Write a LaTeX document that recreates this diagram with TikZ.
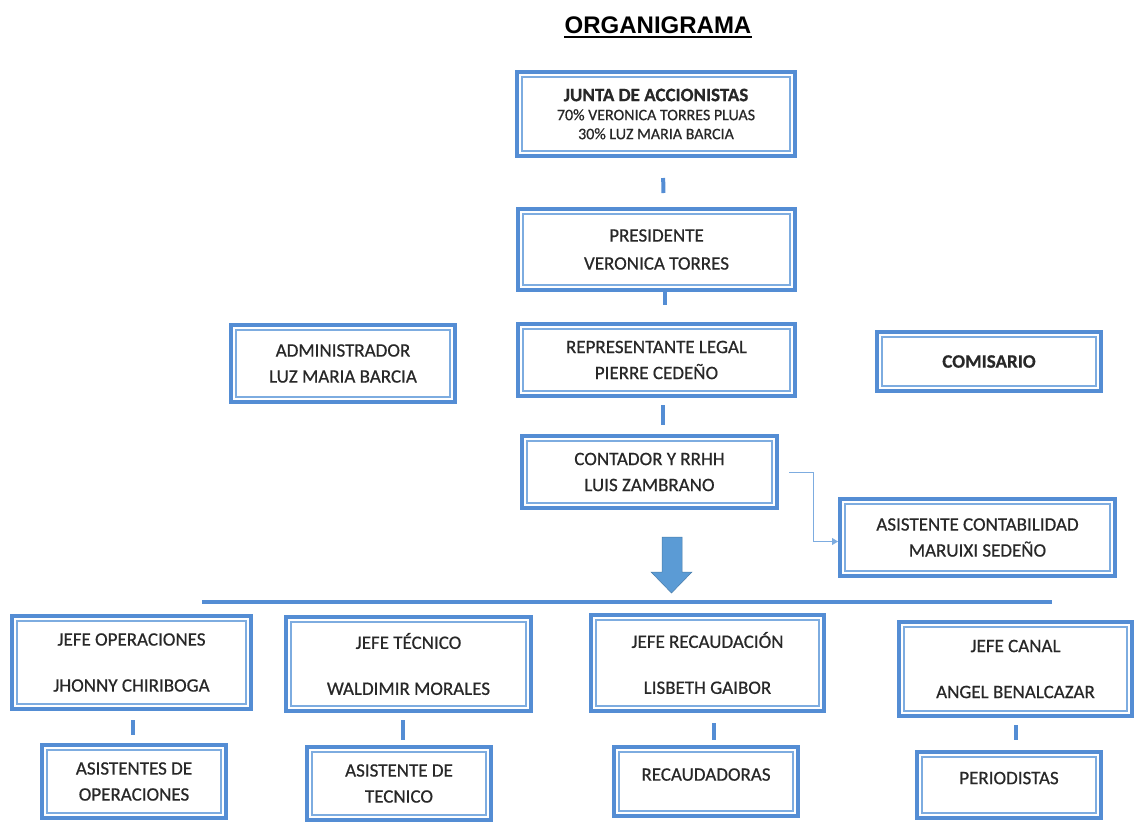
\documentclass[tikz,border=0pt]{standalone}
\usepackage{fontspec}
\setmainfont{Carlito}[RawFeature={embolden=0.6}]
\newfontfamily\titlefont{Liberation Sans}
\usetikzlibrary{arrows.meta}
\definecolor{boxblue}{RGB}{84,141,212}
\definecolor{innerblue}{RGB}{125,172,224}
\definecolor{textgray}{RGB}{40,40,40}
\definecolor{arrowblue}{RGB}{91,155,213}

\begin{document}
\begin{tikzpicture}[
  x=1pt, y=-1pt,
  box/.style={draw=boxblue, line width=4pt, fill=white, align=center, text=textgray, inner sep=0pt,
    font=\fontsize{19}{26}\selectfont,
    path picture={\draw[innerblue, line width=1.3pt]
      ([shift={(5pt,5pt)}]path picture bounding box.south west) rectangle
      ([shift={(-5pt,-5pt)}]path picture bounding box.north east);}},
  link/.style={draw=boxblue, line width=4pt},
  thinlink/.style={draw=innerblue, line width=0.9pt, -{Triangle[length=6pt,width=7pt]}}
]
  \useasboundingbox (0,0) rectangle (1136,825);

  % title
  \node (titulo) [anchor=base, inner sep=0pt, font=\titlefont\bfseries\fontsize{24}{28}\selectfont] at (658,33) {ORGANIGRAMA};
  \draw [line width=2pt] ([yshift=-3.5pt]titulo.base west) -- ([yshift=-3.5pt]titulo.base east);

  % upper levels
  \node (junta) [box, minimum width=278pt, minimum height=84pt, font=\fontsize{19}{19}\selectfont] at (656,114)
    {\textbf{JUNTA DE ACCIONISTAS}\\{\fontsize{16}{19}\selectfont 70\% VERONICA TORRES PLUAS}\\{\fontsize{16}{19}\selectfont 30\% LUZ MARIA BARCIA}};
  \node (presi) [box, minimum width=277pt, minimum height=81pt] at (656.5,249.5) {PRESIDENTE\\[2pt]VERONICA TORRES};
  \node (admin) [box, minimum width=224pt, minimum height=77pt] at (343,363.5) {ADMINISTRADOR\\LUZ MARIA BARCIA};
  \node (rep) [box, minimum width=277pt, minimum height=72pt] at (656.5,360) {REPRESENTANTE LEGAL\\PIERRE CEDEÑO};
  \node (comis) [box, minimum width=224pt, minimum height=59pt] at (989,361.5) {\textbf{COMISARIO}};
  \node (conta) [box, minimum width=255pt, minimum height=72pt] at (649.5,472) {CONTADOR Y RRHH\\LUIS ZAMBRANO};
  \node (asistc) [box, minimum width=275pt, minimum height=77pt] at (977.5,537.5) {ASISTENTE CONTABILIDAD\\MARUIXI SEDEÑO};

  % jefes
  \node (jefeop) [box, minimum width=239pt, minimum height=93pt] at (131.5,662.5) {JEFE OPERACIONES\\[20pt]JHONNY CHIRIBOGA};
  \node (jefetec) [box, minimum width=245pt, minimum height=94pt] at (408.5,664) {JEFE TÉCNICO\\[20pt]WALDIMIR MORALES};
  \node (jeferec) [box, minimum width=233pt, minimum height=96pt] at (707.5,663) {JEFE RECAUDACIÓN\\[20pt]LISBETH GAIBOR};
  \node (jefecan) [box, minimum width=233pt, minimum height=94pt] at (1015.5,669) {JEFE CANAL\\[20pt]ANGEL BENALCAZAR};

  % asistentes
  \node (asisop) [box, minimum width=184pt, minimum height=73pt] at (134,781.5) {ASISTENTES DE\\OPERACIONES};
  \node (asistec) [box, minimum width=184pt, minimum height=73pt] at (399,783.5) {ASISTENTE DE\\TECNICO};
  \node (recaud) [box, minimum width=184pt, minimum height=69pt] at (706,781.5) {RECAUDADORAS\\[-12pt]\mbox{}};
  \node (perio) [box, minimum width=184pt, minimum height=66pt] at (1009,785) {PERIODISTAS\\[-12pt]\mbox{}};

  \coordinate (busizq) at (202,602);
  \coordinate (busder) at (1052,602);

  \draw [link, shorten <=20pt, shorten >=14pt] ([xshift=7pt]junta.south) -- ([xshift=7pt]presi.north);
  \draw [link, shorten >=17pt] ([xshift=8pt]presi.south) -- ([xshift=8pt]presi.south |- rep.north);
  \draw [link, shorten <=7pt, shorten >=9pt] ([xshift=6.5pt]rep.south) -- ([xshift=6.5pt]rep.south |- conta.north);
  \draw [thinlink] ([xshift=10pt]conta.east) -- ++(24,0) |- ([yshift=-4pt]asistc.west);

  % flecha grande
  \filldraw [fill=arrowblue, draw=arrowblue!80!black, line width=0.5pt]
    (662,537) -- (682,537) -- (682,572) -- (692,572) -- (671.5,593) -- (651,572) -- (662,572) -- cycle;
  \draw [link, line width=3.5pt] (busizq) -- (busder);

  \draw [link, shorten <=9pt, shorten >=8pt] ([xshift=1.5pt]jefeop.south) -- ([xshift=1.5pt]jefeop.south |- asisop.north);
  \draw [link, shorten <=7pt, shorten >=5pt] ([xshift=-5.5pt]jefetec.south) -- ([xshift=-5.5pt]jefetec.south |- asistec.north);
  \draw [link, shorten <=10pt, shorten >=5pt] ([xshift=6.5pt]jeferec.south) -- ([xshift=6.5pt]jeferec.south |- recaud.north);
  \draw [link, shorten <=7pt, shorten >=10pt] ([xshift=0.5pt]jefecan.south) -- ([xshift=0.5pt]jefecan.south |- perio.north);
\end{tikzpicture}
\end{document}
